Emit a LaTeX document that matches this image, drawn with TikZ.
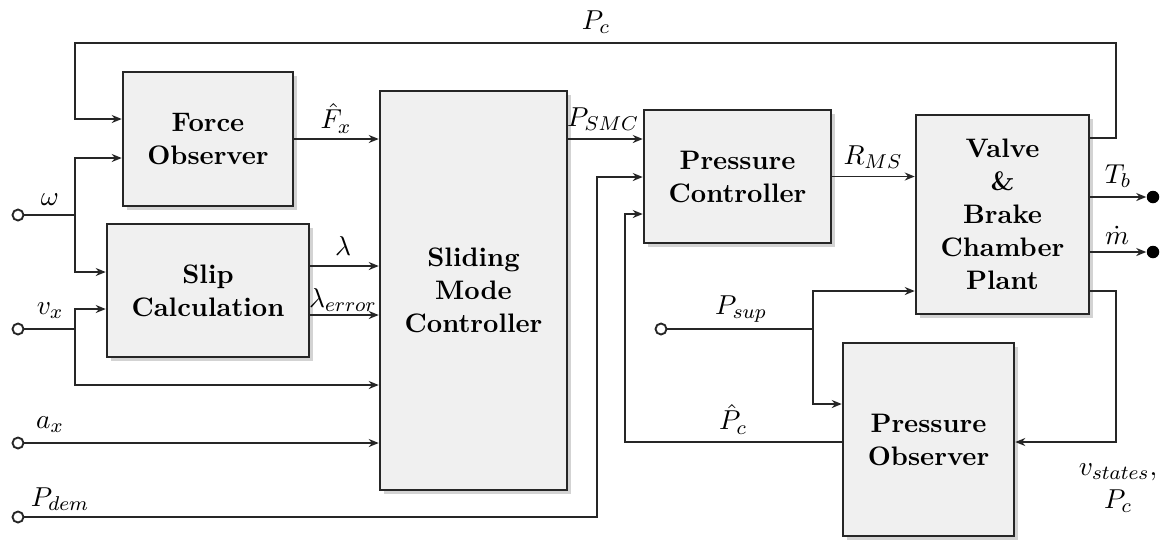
\documentclass[tikz,border=0pt]{standalone}
\usetikzlibrary{positioning,calc,arrows.meta,shadows}

\begin{document}
\begin{tikzpicture}[
    x=0.4pt, y=-0.4pt,
    block/.style={draw=black!85, line width=1pt, fill=black!6, inner sep=0pt,
      align=center, font=\bfseries\fontsize{10.7}{13.2}\selectfont,
      drop shadow={shadow xshift=1.6pt, shadow yshift=-1.6pt, opacity=0.35}},
    sig/.style={-{Stealth[length=4pt, width=3.2pt]}, line width=0.75pt, black!85},
    wire/.style={line width=0.75pt, black!85},
    port/.style={circle, draw=black!85, line width=0.75pt, fill=white, inner sep=0pt, minimum size=4.4pt},
    sink/.style={circle, fill=black, inner sep=0pt, minimum size=5pt},
    lbl/.style={inner sep=0pt, font=\fontsize{10.95}{13}\selectfont},
]
\useasboundingbox (0,0) rectangle (1170,542);

% blocks
\node[block, minimum width=68pt, minimum height=53.6pt] (fo) at (208,139) {Force\\Observer};
\node[block, minimum width=80.8pt, minimum height=53.2pt] (slip) at (208,290.5) {Slip\\Calculation};
\node[block, minimum width=74.8pt, minimum height=159.6pt] (smc) at (473.5,290.5) {Sliding\\Mode\\Controller};
\node[block, minimum width=74.8pt, minimum height=53.2pt] (pc) at (737.5,176.5) {Pressure\\Controller};
\node[block, minimum width=69.2pt, minimum height=79.6pt] (plant) at (1002.5,214.5) {Valve\\\&\\Brake\\Chamber\\Plant};
\node[block, minimum width=68.4pt, minimum height=77.2pt] (pobs) at (928.5,439.5) {Pressure\\Observer};

% inputs and outputs
\node[port] (w) at (18,215) {};
\node[port] (vx) at (18,329) {};
\node[port] (ax) at (18,443) {};
\node[port] (pdem) at (18,517) {};
\node[port] (psup) at (661,329) {};
\node[sink] (tb) at (1153,197) {};
\node[sink] (mdot) at (1153,252) {};
\coordinate (wj) at (75,215);
\coordinate (vxj) at (75,329);
\coordinate (psj) at (813,329);
\coordinate (pdj) at (597,177);
\coordinate (phj) at (625,214);
\coordinate (fbR) at (1116,43);
\coordinate (fbL) at (75,43);
\coordinate (vsR) at (1116,442);

% signals
\draw[wire] (w) -- (wj);
\draw[sig] (wj) |- (fo.west |- 0,158);
\draw[sig] (wj) |- (slip.west |- 0,272);
\draw[wire] (vx) -- (vxj);
\draw[sig] (vxj) |- (slip.west |- 0,309);
\draw[sig] (vxj) |- (smc.west |- 0,385);
\draw[sig] (ax) -- (smc.west |- ax);
\draw[sig] (pdem) -| (pdj) -- (pc.west |- pdj);
\draw[sig] (fo.east) -- (smc.west |- fo.east);
\draw[sig] (slip.east |- 0,266) -- (smc.west |- 0,266);
\draw[sig] (slip.east |- 0,315) -- (smc.west |- 0,315);
\draw[sig] (smc.east |- 0,139) -- (pc.west |- 0,139);
\draw[sig] (pc.east) -- (plant.west |- pc.east);
\draw[sig] (plant.east |- 0,138) -| (fbR) -- (fbL) |- (fo.west |- 0,119);
\draw[sig] (plant.east |- tb) -- (tb);
\draw[sig] (plant.east |- mdot) -- (mdot);
\draw[sig] (plant.east |- 0,291) -| (vsR) -- (pobs.east |- vsR);
\draw[wire] (psup) -- (psj);
\draw[sig] (psj) |- (plant.west |- 0,291);
\draw[sig] (psj) |- (pobs.west |- 0,404);
\draw[sig] (pobs.west |- vsR) -| (phj) -- (pc.west |- phj);

% labels
\node[lbl] (lPc) at (596,22) {$P_c$};
\node[lbl] (lw) at (50,200) {$\omega$};
\node[lbl] (lvx) at (50,311) {$v_x$};
\node[lbl] (lax) at (50,425) {$a_x$};
\node[lbl] (lpdem) at (60,499) {$P_{dem}$};
\node[lbl] (lF) at (336,118) {$\hat{F}_x$};
\node[lbl] (llam) at (343,246) {$\lambda$};
\node[lbl] (llerr) at (343,300) {$\lambda_{error}$};
\node[lbl] (lpsmc) at (603,119) {$P_{SMC}$};
\node[lbl] (lrms) at (873,157) {$R_{MS}$};
\node[lbl] (ltb) at (1118,176) {$T_b$};
\node[lbl] (lm) at (1117,235) {$\dot{m}$};
\node[lbl] (lpsup) at (741,309) {$P_{sup}$};
\node[lbl] (lphat) at (733,419) {$\hat{P}_c$};
\node[lbl, align=center] (lvs) at (1118,488) {$v_{states},$\\$P_c$};
\end{tikzpicture}
\end{document}
